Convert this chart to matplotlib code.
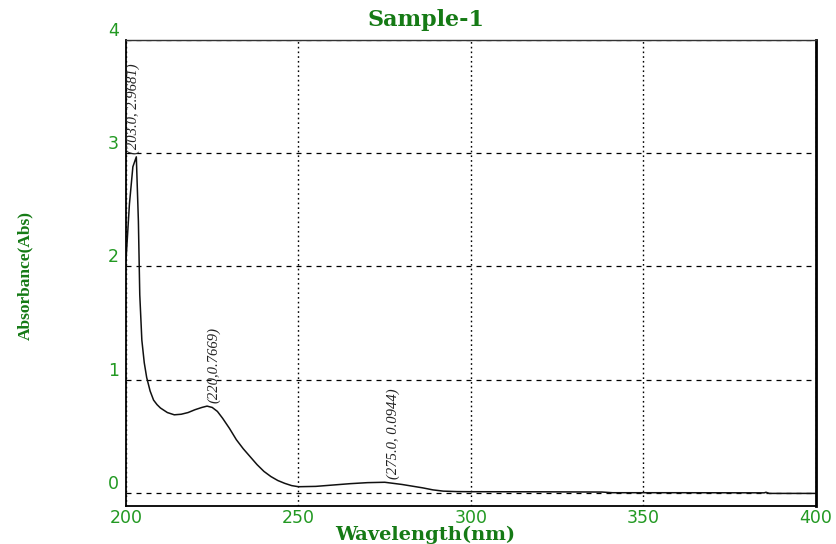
import matplotlib.pyplot as plt

# spectrum of Sample-1
wavelength = [200, 201, 202, 203, 203.6, 204, 204.6, 205.3, 206, 207, 208, 209, 210,
              212, 214, 216, 218, 220, 222, 223.5, 225, 226.5, 228, 230, 232, 234,
              236, 238, 240, 242, 244, 246, 248, 250, 255, 260, 265, 270, 275, 280,
              283, 286, 289, 292, 296, 300, 320, 338, 341, 360, 385, 385.5, 386.5, 400]
absorbance = [2.05, 2.55, 2.88, 2.9681, 2.4, 1.75, 1.35, 1.15, 1.02, 0.90, 0.82, 0.78, 0.75,
              0.71, 0.69, 0.695, 0.71, 0.735, 0.755, 0.7669, 0.755, 0.72, 0.66, 0.57, 0.47, 0.39,
              0.32, 0.25, 0.19, 0.145, 0.11, 0.085, 0.065, 0.055, 0.058, 0.07, 0.082, 0.091, 0.0944, 0.075,
              0.06, 0.045, 0.027, 0.016, 0.012, 0.011, 0.010, 0.008, 0.002, 0.002, 0.001, 0.006, -0.004, -0.004]

# peak picks
peak_x = [203.0, 223.5, 275.0]
peak_y = [2.9681, 0.7669, 0.0944]
peak_text = ['(203.0, 2.9681)', '(220,0.7669)', '(275.0, 0.0944)']
# horizontal nudge of each pick label, in points
peak_dx = [-2, 5, 6]

x_ticks = [200, 250, 300, 350, 400]
y_ticks = [0, 1, 2, 3, 4]

tick_green = '#229922'
label_green = '#157a15'

fig = plt.figure(figsize=(8.37, 5.44), dpi=100)
ax = fig.add_axes([0.1505, 0.0699, 0.8244, 0.8566])

ax.plot(wavelength, absorbance, color='#111111', lw=1.1)

for px, py, t, dx in zip(peak_x, peak_y, peak_text, peak_dx):
    ax.annotate(t, (px, py), xytext=(dx, 2), textcoords='offset points',
                rotation=90, ha='center', va='bottom', fontsize=10.5,
                family='Liberation Serif', style='italic', color='#222222')

ax.set_xlim(200, 400)
ax.set_ylim(-0.115, 4)
ax.set_xticks(x_ticks)
ax.set_yticks(y_ticks)
ax.tick_params(length=0, labelsize=12.5, labelcolor=tick_green)
ax.tick_params(axis='x', pad=2)
ax.tick_params(axis='y', pad=5)
for lab in ax.get_yticklabels():
    lab.set_va('bottom')

ax.xaxis.grid(True, color='k', lw=1, linestyle=(0, (1.2, 2.2)))
ax.yaxis.grid(True, color='k', lw=0.9, linestyle=(0, (4, 4)))

for side in ['left', 'bottom']:
    ax.spines[side].set_linewidth(1.3)
ax.spines['top'].set_linewidth(1.0)
ax.spines['top'].set_color('#333333')
ax.spines['right'].set_linewidth(2)

fig.text(426 / 837, 1 - 20 / 544, 'Sample-1', ha='center', va='center',
         family='DejaVu Serif', weight='bold', fontsize=16, color=label_green)
fig.text(425 / 837, 1 - 539.5 / 544, 'Wavelength(nm)', ha='center', va='baseline',
         family='DejaVu Serif', weight='bold', fontsize=14, color=label_green)
fig.text(25 / 837, 1 - 276 / 544, 'Absorbance(Abs)', ha='center', va='center',
         rotation=90, family='Liberation Serif', weight='bold', fontsize=12.5,
         color=label_green)

fig.savefig('out.png', dpi=100)
